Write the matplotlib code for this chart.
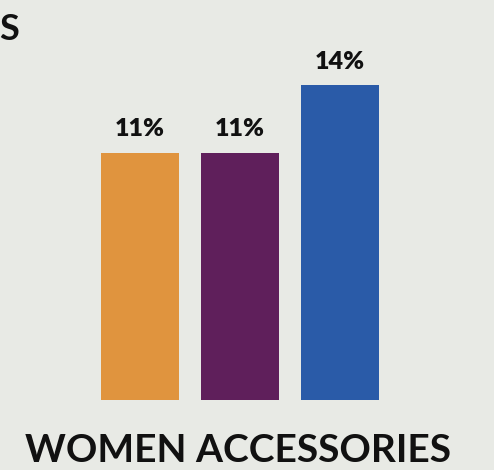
import matplotlib
matplotlib.use("Agg")
import matplotlib.pyplot as plt

# share of shoppers by group, women accessories
groups = ["A", "B", "C"]
values = [11, 11, 14]
labels = ["11%", "11%", "14%"]
colors = ["#e0943e", "#5f1f5b", "#2a5ba8"]
category = "WOMEN ACCESSORIES"

bg = "#e8eae5"
plt.rcParams['font.family'] = ['Lato', 'DejaVu Sans']

fig = plt.figure(figsize=(4.94, 4.70), dpi=100)
fig.patch.set_facecolor(bg)

ax = fig.add_axes([0, 70/470, 1, 400/470])
ax.set_facecolor(bg)
x = list(range(len(groups)))
ax.bar(x, values, width=0.78, color=colors)
for xi, v, lab in zip(x, values, labels):
    ax.text(xi, v + 0.55, lab, ha="center", va="bottom",
            fontsize=18, fontweight="heavy", color="#111111")
ax.set_xlim(-1.4, 3.54)
ax.set_ylim(0, 400/22.5)
ax.axis("off")

fig.text(238/494, 1 - 450/470, category, ha="center", va="center",
         fontsize=28, fontweight="bold", color="#111111")
# tail of the neighbouring panel's title
fig.text(-1/494, 1 - 30/470, "S", ha="left", va="center",
         fontsize=26, fontweight="bold", color="#111111")

fig.savefig("out.png", dpi=100, facecolor=bg)
